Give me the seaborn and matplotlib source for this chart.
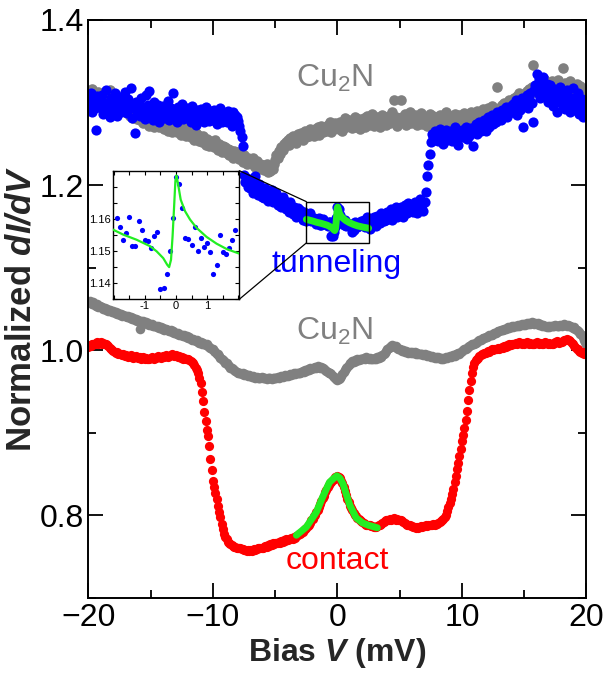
import numpy as np
import matplotlib
matplotlib.use("Agg")
import matplotlib.pyplot as plt
from matplotlib.patches import Rectangle, ConnectionPatch
from matplotlib.ticker import MultipleLocator, FixedLocator, FixedFormatter
import seaborn as sns

# Bias sweep (mV), 0.1 mV steps
bias_mv = np.round(np.linspace(-20, 20, 401), 1)

# Bare Cu2N, tunneling regime
cu2n_tunnel = [
    1.311, 1.302, 1.306, 1.316, 1.299, 1.309, 1.304, 1.296, 1.313, 1.305,
    1.308, 1.298, 1.312, 1.301, 1.294, 1.307, 1.300, 1.315, 1.297, 1.304,
    1.301, 1.307, 1.293, 1.299, 1.305, 1.290, 1.298, 1.294, 1.302, 1.288,
    1.295, 1.287, 1.298, 1.284, 1.291, 1.296, 1.281, 1.289, 1.293, 1.280,
    1.286, 1.279, 1.290, 1.283, 1.275, 1.288, 1.281, 1.277, 1.285, 1.272,
    1.280, 1.276, 1.284, 1.271, 1.279, 1.274, 1.282, 1.270, 1.277, 1.273,
    1.275, 1.268, 1.279, 1.272, 1.266, 1.276, 1.270, 1.264, 1.273, 1.269,
    1.271, 1.264, 1.268, 1.274, 1.261, 1.267, 1.263, 1.270, 1.259, 1.265,
    1.262, 1.268, 1.258, 1.264, 1.260, 1.255, 1.263, 1.257, 1.261, 1.253,
    1.258, 1.252, 1.260, 1.255, 1.249, 1.256, 1.251, 1.247, 1.254, 1.250,
    1.252, 1.246, 1.255, 1.249, 1.243, 1.250, 1.245, 1.240, 1.248, 1.242,
    1.246, 1.239, 1.244, 1.236, 1.242, 1.238, 1.233, 1.241, 1.235, 1.240,
    1.237, 1.232, 1.239, 1.234, 1.228, 1.236, 1.231, 1.226, 1.233, 1.229,
    1.231, 1.225, 1.233, 1.227, 1.222, 1.229, 1.224, 1.219, 1.226, 1.221,
    1.224, 1.218, 1.222, 1.226, 1.216, 1.221, 1.217, 1.223, 1.219, 1.225,
    1.230, 1.236, 1.233, 1.241, 1.238, 1.246, 1.243, 1.250, 1.247, 1.252,
    1.255, 1.249, 1.257, 1.252, 1.260, 1.254, 1.258, 1.251, 1.262, 1.256,
    1.259, 1.263, 1.255, 1.261, 1.266, 1.258, 1.264, 1.260, 1.268, 1.262,
    1.265, 1.259, 1.268, 1.263, 1.270, 1.261, 1.266, 1.272, 1.264, 1.269,
    1.270, 1.265, 1.273, 1.267, 1.276, 1.264, 1.271, 1.268, 1.275, 1.270,
    1.273, 1.268, 1.277, 1.271, 1.266, 1.275, 1.281, 1.270, 1.274, 1.279,
    1.272, 1.278, 1.269, 1.276, 1.283, 1.271, 1.275, 1.280, 1.268, 1.277,
    1.274, 1.281, 1.270, 1.277, 1.284, 1.273, 1.279, 1.275, 1.286, 1.272,
    1.278, 1.274, 1.283, 1.277, 1.271, 1.280, 1.285, 1.276, 1.282, 1.273,
    1.279, 1.284, 1.275, 1.281, 1.288, 1.303, 1.277, 1.283, 1.272, 1.280,
    1.276, 1.303, 1.282, 1.278, 1.286, 1.273, 1.281, 1.277, 1.289, 1.275,
    1.282, 1.276, 1.285, 1.279, 1.273, 1.284, 1.278, 1.287, 1.274, 1.281,
    1.277, 1.283, 1.272, 1.280, 1.286, 1.275, 1.279, 1.284, 1.271, 1.278,
    1.281, 1.276, 1.285, 1.273, 1.279, 1.283, 1.277, 1.288, 1.274, 1.280,
    1.278, 1.284, 1.275, 1.281, 1.286, 1.272, 1.280, 1.277, 1.285, 1.279,
    1.282, 1.278, 1.287, 1.280, 1.276, 1.285, 1.283, 1.289, 1.279, 1.284,
    1.286, 1.281, 1.290, 1.283, 1.288, 1.279, 1.285, 1.292, 1.284, 1.289,
    1.287, 1.293, 1.284, 1.290, 1.296, 1.286, 1.292, 1.288, 1.319, 1.291,
    1.294, 1.289, 1.297, 1.292, 1.300, 1.295, 1.291, 1.299, 1.303, 1.296,
    1.301, 1.297, 1.305, 1.299, 1.308, 1.302, 1.311, 1.304, 1.309, 1.306,
    1.310, 1.305, 1.314, 1.308, 1.316, 1.311, 1.319, 1.346, 1.313, 1.320,
    1.317, 1.322, 1.314, 1.325, 1.319, 1.316, 1.328, 1.321, 1.315, 1.324,
    1.320, 1.314, 1.326, 1.318, 1.323, 1.312, 1.321, 1.327, 1.316, 1.322,
    1.319, 1.342, 1.315, 1.324, 1.311, 1.320, 1.317, 1.326, 1.313, 1.321,
    1.318, 1.312, 1.323, 1.315, 1.309, 1.320, 1.314, 1.306, 1.317, 1.311,
    1.313,
]

# Molecule, tunneling regime
tunneling = [
    1.305, 1.296, 1.312, 1.289, 1.301, 1.293, 1.267, 1.308, 1.298, 1.302,
    1.294, 1.309, 1.286, 1.300, 1.315, 1.291, 1.297, 1.283, 1.305, 1.299,
    1.290, 1.311, 1.302, 1.284, 1.296, 1.307, 1.289, 1.300, 1.292, 1.313,
    1.298, 1.287, 1.304, 1.293, 1.318, 1.281, 1.296, 1.263, 1.301, 1.290,
    1.299, 1.284, 1.306, 1.291, 1.295, 1.280, 1.309, 1.288, 1.297, 1.314,
    1.286, 1.295, 1.279, 1.301, 1.290, 1.284, 1.297, 1.276, 1.292, 1.287,
    1.296, 1.281, 1.290, 1.285, 1.302, 1.279, 1.293, 1.287, 1.311, 1.284,
    1.290, 1.276, 1.295, 1.283, 1.289, 1.298, 1.280, 1.292, 1.286, 1.294,
    1.281, 1.290, 1.277, 1.296, 1.284, 1.288, 1.273, 1.291, 1.285, 1.279,
    1.292, 1.283, 1.287, 1.276, 1.295, 1.281, 1.289, 1.278, 1.290, 1.284,
    1.279, 1.291, 1.285, 1.274, 1.288, 1.282, 1.293, 1.277, 1.286, 1.281,
    1.287, 1.276, 1.290, 1.281, 1.284, 1.272, 1.289, 1.279, 1.285, 1.283,
    1.278, 1.272, 1.266, 1.258, 1.247, 1.212, 1.204, 1.209, 1.198, 1.201,
    1.196, 1.205, 1.191, 1.199, 1.211, 1.194, 1.188, 1.201, 1.195, 1.186,
    1.193, 1.184, 1.197, 1.188, 1.181, 1.191, 1.185, 1.194, 1.179, 1.188,
    1.182, 1.190, 1.176, 1.184, 1.179, 1.173, 1.186, 1.177, 1.181, 1.171,
    1.175, 1.168, 1.179, 1.171, 1.165, 1.174, 1.169, 1.162, 1.172, 1.166,
    1.170, 1.163, 1.158, 1.167, 1.161, 1.156, 1.164, 1.159, 1.166, 1.157,
    1.1580, 1.1603, 1.1574, 1.1533, 1.1556, 1.1605, 1.1517, 1.1517, 1.1595, 1.1565,
    1.1533, 1.1531, 1.1509, 1.1548, 1.1558, 1.1381, 1.1384, 1.1429, 1.1499, 1.1603,
    1.1731, 1.1710, 1.1634, 1.1541, 1.1537, 1.1520, 1.1574, 1.1501, 1.1541, 1.1512,
    1.1525, 1.1496, 1.1429, 1.1457, 1.1551, 1.1496, 1.1491, 1.1511, 1.1533, 1.1567,
    1.152, 1.158, 1.149, 1.156, 1.161, 1.153, 1.147, 1.159, 1.155, 1.162,
    1.157, 1.151, 1.163, 1.159, 1.154, 1.166, 1.160, 1.156, 1.164, 1.158,
    1.168, 1.160, 1.165, 1.171, 1.158, 1.167, 1.163, 1.174, 1.162, 1.169,
    1.165, 1.173, 1.168, 1.161, 1.176, 1.170, 1.166, 1.178, 1.169, 1.173,
    1.175, 1.168, 1.180, 1.172, 1.166, 1.177, 1.183, 1.171, 1.176, 1.169,
    1.180, 1.192, 1.211, 1.224, 1.238, 1.252, 1.262, 1.258, 1.265, 1.255,
    1.262, 1.253, 1.268, 1.258, 1.264, 1.250, 1.261, 1.267, 1.255, 1.263,
    1.259, 1.266, 1.254, 1.263, 1.270, 1.257, 1.261, 1.249, 1.265, 1.260,
    1.267, 1.258, 1.262, 1.271, 1.256, 1.265, 1.260, 1.269, 1.263, 1.247,
    1.268, 1.274, 1.262, 1.270, 1.277, 1.265, 1.272, 1.268, 1.279, 1.266,
    1.276, 1.282, 1.271, 1.279, 1.285, 1.274, 1.281, 1.277, 1.288, 1.280,
    1.285, 1.279, 1.291, 1.284, 1.288, 1.295, 1.282, 1.290, 1.287, 1.296,
    1.289, 1.298, 1.292, 1.303, 1.285, 1.296, 1.300, 1.291, 1.306, 1.271,
    1.302, 1.297, 1.309, 1.294, 1.305, 1.311, 1.299, 1.277, 1.315, 1.321,
    1.334, 1.312, 1.328, 1.305, 1.319, 1.331, 1.308, 1.316, 1.323, 1.301,
    1.314, 1.321, 1.305, 1.296, 1.317, 1.309, 1.288, 1.312, 1.302, 1.319,
    1.298, 1.311, 1.304, 1.292, 1.315, 1.300, 1.307, 1.289, 1.296, 1.318,
    1.305, 1.291, 1.299, 1.312, 1.286, 1.297, 1.304, 1.283, 1.301, 1.293,
    1.296,
]

# Bare Cu2N, contact regime
cu2n_contact = [
    1.058, 1.060, 1.057, 1.056, 1.058, 1.055, 1.054, 1.056, 1.053, 1.054,
    1.052, 1.053, 1.050, 1.051, 1.049, 1.050, 1.048, 1.049, 1.047, 1.046,
    1.047, 1.045, 1.046, 1.044, 1.045, 1.043, 1.044, 1.042, 1.043, 1.041,
    1.042, 1.040, 1.041, 1.039, 1.040, 1.038, 1.039, 1.037, 1.038, 1.036,
    1.037, 1.026, 1.035, 1.034, 1.035, 1.033, 1.034, 1.032, 1.033, 1.031,
    1.031, 1.032, 1.030, 1.029, 1.030, 1.028, 1.029, 1.027, 1.028, 1.026,
    1.027, 1.025, 1.026, 1.024, 1.025, 1.023, 1.024, 1.022, 1.023, 1.021,
    1.021, 1.020, 1.021, 1.019, 1.018, 1.019, 1.017, 1.018, 1.016, 1.017,
    1.015, 1.016, 1.014, 1.013, 1.014, 1.012, 1.011, 1.012, 1.010, 1.009,
    1.010, 1.008, 1.009, 1.007, 1.006, 1.007, 1.005, 1.004, 1.003, 1.002,
    1.001, 0.999, 0.998, 0.996, 0.995, 0.993, 0.991, 0.990, 0.988, 0.987,
    0.985, 0.984, 0.982, 0.981, 0.979, 0.978, 0.977, 0.976, 0.975, 0.974,
    0.973, 0.973, 0.972, 0.971, 0.972, 0.970, 0.971, 0.970, 0.969, 0.970,
    0.969, 0.968, 0.969, 0.968, 0.967, 0.968, 0.967, 0.966, 0.967, 0.968,
    0.967, 0.966, 0.967, 0.965, 0.966, 0.967, 0.966, 0.965, 0.966, 0.967,
    0.966, 0.967, 0.968, 0.967, 0.968, 0.969, 0.968, 0.969, 0.970, 0.969,
    0.969, 0.970, 0.971, 0.970, 0.971, 0.972, 0.971, 0.972, 0.973, 0.972,
    0.973, 0.974, 0.975, 0.974, 0.976, 0.975, 0.977, 0.976, 0.978, 0.977,
    0.978, 0.979, 0.980, 0.979, 0.981, 0.980, 0.979, 0.980, 0.978, 0.977,
    0.976, 0.975, 0.974, 0.973, 0.972, 0.971, 0.969, 0.968, 0.966, 0.965,
    0.964, 0.965, 0.967, 0.969, 0.971, 0.974, 0.976, 0.978, 0.980, 0.982,
    0.984, 0.985, 0.987, 0.986, 0.988, 0.987, 0.989, 0.988, 0.990, 0.989,
    0.990, 0.991, 0.990, 0.992, 0.991, 0.990, 0.991, 0.990, 0.989, 0.990,
    0.991, 0.990, 0.992, 0.991, 0.993, 0.992, 0.994, 0.995, 0.997, 0.999,
    1.001, 1.003, 1.004, 1.005, 1.006, 1.005, 1.004, 1.005, 1.003, 1.002,
    1.001, 1.000, 0.999, 1.000, 0.998, 0.999, 0.998, 0.997, 0.998, 0.997,
    0.998, 0.997, 0.998, 0.996, 0.997, 0.996, 0.995, 0.996, 0.995, 0.994,
    0.995, 0.994, 0.993, 0.994, 0.993, 0.992, 0.993, 0.992, 0.991, 0.992,
    0.991, 0.992, 0.991, 0.990, 0.991, 0.990, 0.991, 0.992, 0.991, 0.992,
    0.993, 0.992, 0.993, 0.994, 0.993, 0.995, 0.996, 0.997, 0.996, 0.998,
    0.999, 1.000, 1.001, 1.002, 1.003, 1.004, 1.005, 1.006, 1.007, 1.008,
    1.008, 1.009, 1.010, 1.011, 1.012, 1.013, 1.014, 1.015, 1.015, 1.016,
    1.016, 1.017, 1.018, 1.018, 1.019, 1.020, 1.021, 1.021, 1.022, 1.023,
    1.023, 1.024, 1.024, 1.025, 1.026, 1.026, 1.027, 1.028, 1.027, 1.028,
    1.029, 1.028, 1.029, 1.030, 1.029, 1.031, 1.030, 1.031, 1.032, 1.031,
    1.032, 1.031, 1.033, 1.032, 1.033, 1.032, 1.034, 1.033, 1.032, 1.033,
    1.032, 1.033, 1.031, 1.032, 1.030, 1.031, 1.029, 1.030, 1.028, 1.029,
    1.028, 1.029, 1.030, 1.029, 1.030, 1.031, 1.030, 1.029, 1.030, 1.031,
    1.030, 1.031, 1.032, 1.031, 1.030, 1.031, 1.029, 1.030, 1.028, 1.027,
    1.028, 1.026, 1.025, 1.023, 1.022, 1.020, 1.018, 1.016, 1.013, 1.010,
    1.007,
]

# Molecule, contact regime
contact = [
    1.004, 1.006, 1.005, 1.007, 1.008, 1.007, 1.009, 1.010, 1.008, 1.009,
    1.010, 1.008, 1.009, 1.007, 1.008, 1.006, 1.005, 1.003, 1.002, 1.000,
    0.999, 0.998, 0.997, 0.998, 0.996, 0.995, 0.996, 0.994, 0.995, 0.993,
    0.994, 0.993, 0.992, 0.993, 0.994, 0.992, 0.991, 0.992, 0.993, 0.992,
    0.991, 0.992, 0.990, 0.991, 0.992, 0.990, 0.991, 0.990, 0.989, 0.990,
    0.991, 0.992, 0.991, 0.990, 0.991, 0.992, 0.993, 0.992, 0.991, 0.992,
    0.993, 0.992, 0.994, 0.993, 0.992, 0.993, 0.994, 0.995, 0.994, 0.993,
    0.994, 0.993, 0.992, 0.993, 0.991, 0.992, 0.990, 0.991, 0.989, 0.990,
    0.989, 0.988, 0.987, 0.986, 0.984, 0.982, 0.979, 0.976, 0.972, 0.967,
    0.960, 0.950, 0.938, 0.925, 0.914, 0.904, 0.896, 0.884, 0.868, 0.855,
    0.842, 0.835, 0.827, 0.820, 0.812, 0.804, 0.798, 0.790, 0.784, 0.778,
    0.774, 0.771, 0.768, 0.766, 0.765, 0.764, 0.763, 0.762, 0.762, 0.761,
    0.761, 0.760, 0.760, 0.759, 0.759, 0.758, 0.758, 0.757, 0.758, 0.757,
    0.758, 0.757, 0.758, 0.759, 0.758, 0.759, 0.760, 0.760, 0.761, 0.760,
    0.761, 0.762, 0.763, 0.762, 0.764, 0.763, 0.765, 0.764, 0.766, 0.765,
    0.766, 0.767, 0.766, 0.768, 0.767, 0.769, 0.768, 0.770, 0.769, 0.771,
    0.770, 0.772, 0.771, 0.773, 0.772, 0.774, 0.773, 0.775, 0.776, 0.777,
    0.778, 0.779, 0.780, 0.782, 0.783, 0.785, 0.787, 0.789, 0.791, 0.794,
    0.796, 0.799, 0.801, 0.804, 0.807, 0.810, 0.814, 0.817, 0.821, 0.824,
    0.828, 0.831, 0.834, 0.837, 0.839, 0.841, 0.843, 0.844, 0.846, 0.847,
    0.848, 0.846, 0.845, 0.842, 0.839, 0.835, 0.830, 0.825, 0.820, 0.816,
    0.812, 0.809, 0.806, 0.803, 0.801, 0.799, 0.797, 0.796, 0.794, 0.793,
    0.792, 0.791, 0.790, 0.789, 0.789, 0.788, 0.788, 0.787, 0.787, 0.786,
    0.786, 0.786, 0.787, 0.788, 0.789, 0.790, 0.791, 0.792, 0.793, 0.794,
    0.794, 0.795, 0.796, 0.795, 0.796, 0.797, 0.796, 0.795, 0.796, 0.795,
    0.794, 0.795, 0.793, 0.792, 0.791, 0.790, 0.789, 0.788, 0.789, 0.787,
    0.787, 0.786, 0.786, 0.785, 0.786, 0.785, 0.786, 0.787, 0.786, 0.787,
    0.787, 0.788, 0.787, 0.788, 0.789, 0.788, 0.789, 0.790, 0.789, 0.790,
    0.790, 0.791, 0.792, 0.793, 0.794, 0.796, 0.798, 0.801, 0.805, 0.810,
    0.815, 0.820, 0.826, 0.832, 0.840, 0.848, 0.856, 0.864, 0.872, 0.881,
    0.890, 0.898, 0.906, 0.916, 0.927, 0.940, 0.952, 0.963, 0.972, 0.980,
    0.985, 0.988, 0.990, 0.991, 0.993, 0.994, 0.995, 0.996, 0.997, 0.997,
    0.998, 0.999, 0.998, 1.000, 1.001, 1.000, 1.002, 1.001, 1.002, 1.003,
    1.002, 1.003, 1.004, 1.003, 1.005, 1.004, 1.006, 1.005, 1.007, 1.006,
    1.007, 1.008, 1.007, 1.009, 1.008, 1.009, 1.010, 1.009, 1.008, 1.009,
    1.008, 1.009, 1.010, 1.009, 1.008, 1.009, 1.008, 1.007, 1.008, 1.009,
    1.010, 1.009, 1.008, 1.009, 1.007, 1.008, 1.009, 1.010, 1.009, 1.008,
    1.009, 1.008, 1.007, 1.008, 1.009, 1.010, 1.011, 1.010, 1.009, 1.010,
    1.010, 1.011, 1.012, 1.013, 1.014, 1.013, 1.012, 1.011, 1.009, 1.007,
    1.005, 1.004, 1.002, 1.001, 0.999, 0.998, 0.997, 0.998, 0.996, 0.997,
    0.996,
]

# Fano fit of the zero-bias feature, tunneling regime
tunnel_fit_bias = [-2.5, -2.03, -1.69, -1.26, -0.83, -0.62, -0.41, -0.28, -0.22,
                   -0.16, -0.11, -0.06, -0.02, 0.01, 0.06, 0.15, 0.29, 0.45,
                   0.66, 0.98, 1.30, 1.63, 2.03, 2.5]
tunnel_fit = [1.1585, 1.1567, 1.1551, 1.1535, 1.1515, 1.1499, 1.1478, 1.1457, 1.1450,
              1.1473, 1.1546, 1.1640, 1.1718, 1.1735, 1.1712, 1.1660, 1.1624, 1.1598,
              1.1572, 1.1544, 1.1523, 1.1506, 1.1492, 1.1478]

# Fit of the zero-bias peak, contact regime
contact_fit_bias = [-3.3, -2.5, -1.7, -1.2, -0.65, -0.3, -0.05, 0.2, 0.45, 0.7,
                    1.0, 1.5, 2.0, 2.5, 3.2]
contact_fit = [0.776, 0.786, 0.804, 0.822, 0.840, 0.845, 0.848, 0.845, 0.838, 0.826,
               0.812, 0.797, 0.791, 0.788, 0.785]

# Axis ticks and labels
x_ticks = [-20, -10, 0, 10, 20]
y_ticks = [0.8, 1.0, 1.2, 1.4]
y_tick_labels = ["0.8", "1.0", "1.2", "1.4"]
inset_x_ticks = [-1, 0, 1]
inset_x_tick_labels = ["-1", "0", "1"]
inset_y_ticks = [1.14, 1.15, 1.16, 1.17]
inset_y_tick_labels = ["1.14", "1.15", "1.16", ""]

# Zoomed window shown in the inset: (bias range, dI/dV range)
zoom_bias = (-2.5, 2.5)
zoom_didv = (1.13, 1.18)

for arr in (cu2n_tunnel, tunneling, cu2n_contact, contact):
    assert len(arr) == len(bias_mv)

GRAY = "#808080"
BLUE = "#0000ff"
RED = "#ff0000"
GREEN = "#22ee22"

sns.set_theme(style="ticks")
plt.rcParams.update({
    "font.family": ["Liberation Sans", "DejaVu Sans"],
    "mathtext.fontset": "custom",
    "mathtext.rm": "Liberation Sans",
    "mathtext.it": "Liberation Sans:italic",
    "mathtext.bf": "Liberation Sans:bold",
    "mathtext.bfit": "Liberation Sans:italic:bold",
    "axes.edgecolor": "black",
    "xtick.color": "black",
    "ytick.color": "black",
})

fig = plt.figure(figsize=(6.04, 6.80), dpi=100)
ax = fig.add_axes([0.1465, 0.1206, 0.8245, 0.85])

for vals, col, size in [(cu2n_tunnel, GRAY, 58), (tunneling, BLUE, 54),
                        (cu2n_contact, GRAY, 48), (contact, RED, 44)]:
    sns.scatterplot(x=bias_mv, y=vals, color=col, s=size, linewidth=0,
                    ax=ax, legend=False, zorder=2)

sns.lineplot(x=tunnel_fit_bias, y=tunnel_fit, color=GREEN, lw=5, ax=ax,
             estimator=None, sort=False, zorder=4)
sns.lineplot(x=contact_fit_bias, y=contact_fit, color=GREEN, lw=5, ax=ax,
             estimator=None, sort=False, zorder=4)

ax.add_patch(Rectangle((zoom_bias[0], zoom_didv[0]), zoom_bias[1] - zoom_bias[0],
                       zoom_didv[1] - zoom_didv[0], fill=False, ec="black",
                       lw=1.0, zorder=5))

ax.set_xlim(-20, 20)
ax.set_ylim(0.7, 1.4)
ax.xaxis.set_major_locator(FixedLocator(x_ticks))
ax.xaxis.set_minor_locator(MultipleLocator(5))
ax.yaxis.set_major_locator(FixedLocator(y_ticks))
ax.yaxis.set_major_formatter(FixedFormatter(y_tick_labels))
ax.yaxis.set_minor_locator(MultipleLocator(0.1))
ax.tick_params(which="both", direction="in", top=True, right=True, width=1.3,
               labelsize=23)
ax.tick_params(which="major", length=11)
ax.tick_params(which="minor", length=6)
for sp in ax.spines.values():
    sp.set_linewidth(1.4)

ax.set_xlabel("Bias $\\mathbfit{V}$ (mV)", fontsize=23, fontweight="bold", labelpad=2)
ax.set_ylabel("Normalized $\\mathbfit{dI/dV}$", fontsize=25, fontweight="bold", labelpad=1)

ax.text(-0.25, 1.319, "Cu$_\\mathregular{2}$N", color=GRAY, fontsize=23,
        ha="center", va="baseline")
ax.text(-0.1, 1.095, "tunneling", color=BLUE, fontsize=23, ha="center", va="baseline")
ax.text(-0.25, 1.013, "Cu$_\\mathregular{2}$N", color=GRAY, fontsize=23,
        ha="center", va="baseline")
ax.text(0.0, 0.735, "contact", color=RED, fontsize=23, ha="center", va="baseline")

# Inset: close-up of the tunneling zero-bias feature
axins = fig.add_axes([0.1866, 0.5599, 0.2096, 0.1891])
axins.set_facecolor("white")
mask = np.abs(bias_mv) < 1.95
sns.scatterplot(x=bias_mv[mask], y=np.asarray(tunneling)[mask], color=BLUE, s=14,
                linewidth=0, ax=axins, legend=False, zorder=2)
sns.lineplot(x=tunnel_fit_bias, y=tunnel_fit, color=GREEN, lw=1.6, ax=axins,
             estimator=None, sort=False, zorder=3)
axins.set_xlim(-2.03, 2.03)
axins.set_ylim(1.135, 1.175)
axins.xaxis.set_major_locator(FixedLocator(inset_x_ticks))
axins.xaxis.set_major_formatter(FixedFormatter(inset_x_tick_labels))
axins.xaxis.set_minor_locator(MultipleLocator(0.5))
axins.yaxis.set_major_locator(FixedLocator(inset_y_ticks))
axins.yaxis.set_major_formatter(FixedFormatter(inset_y_tick_labels))
axins.yaxis.set_minor_locator(MultipleLocator(0.005))
axins.tick_params(which="both", direction="in", top=True, right=True, length=3,
                  width=0.8, labelsize=8, pad=1.5)
axins.set_xlabel("")
axins.set_ylabel("")
for sp in axins.spines.values():
    sp.set_linewidth(1.0)

for xy_a, xy_b in [((1, 1), (zoom_bias[0], zoom_didv[1])),
                   ((1, 0), (zoom_bias[0], zoom_didv[0]))]:
    con = ConnectionPatch(xyA=xy_a, coordsA=axins.transAxes, xyB=xy_b,
                          coordsB=ax.transData, color="black", lw=0.9)
    fig.add_artist(con)

fig.savefig("out.png", dpi=100)
